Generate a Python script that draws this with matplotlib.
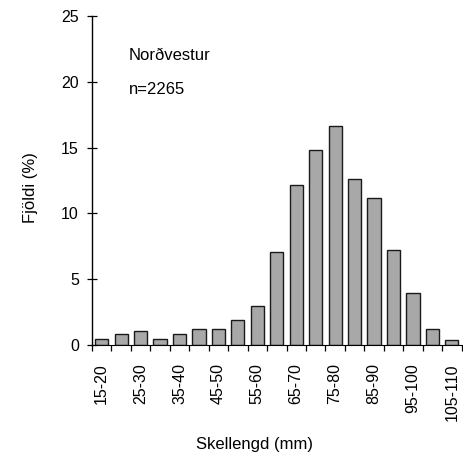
import matplotlib
matplotlib.use("Agg")
import matplotlib.pyplot as plt
import numpy as np

plt.rcParams['font.family'] = ['Liberation Sans', 'DejaVu Sans']

categories = ["15-20", "20-25", "25-30", "30-35", "35-40", "40-45", "45-50",
              "50-55", "55-60", "60-65", "65-70", "70-75", "75-80", "80-85",
              "85-90", "90-95", "95-100", "100-105", "105-110"]
values = [0.45, 0.82, 1.05, 0.45, 0.82, 1.25, 1.25, 1.9, 2.95, 7.05, 12.15,
          14.85, 16.65, 12.6, 11.15, 7.25, 3.95, 1.25, 0.4]
yticks = [0, 5, 10, 15, 20, 25]

W, H = 463, 457
fig = plt.figure(figsize=(W / 100, H / 100), dpi=100)
fig.patch.set_facecolor('white')

px = 19.45
left, bottom, top = 92, 345, 16
n_units = 20
ax = fig.add_axes([left / W, (H - bottom) / H, n_units * px / W, (bottom - top) / H])

x = np.arange(len(categories))
ax.bar(x, values, width=0.68, color='#a8a8a8', edgecolor='#1a1a1a', linewidth=1.0)

ax.set_xlim(-0.5, n_units - 0.5)
ax.set_ylim(0, 25)

ax.spines['top'].set_visible(False)
ax.spines['right'].set_visible(False)
ax.spines['left'].set_linewidth(1.0)
ax.spines['bottom'].set_linewidth(0.8)

ax.set_yticks(yticks)
ax.tick_params(axis='y', direction='inout', length=7, width=0.9, labelsize=11.5, pad=6)

ax.set_xticks(x[::2])
ax.set_xticklabels(categories[::2], rotation=90, fontsize=11.5)
ax.tick_params(axis='x', which='major', length=0, pad=13)
ax.set_xticks(np.arange(-0.5, n_units, 1.0), minor=True)
ax.tick_params(axis='x', which='minor', direction='out', length=4.5, width=0.9)

ax.text(129 / W, 1 - 55 / H, "Norðvestur", transform=fig.transFigure,
        fontsize=12, va='center', ha='left')
ax.text(129 / W, 1 - 89 / H, "n=2265", transform=fig.transFigure,
        fontsize=12, va='center', ha='left')

fig.text(30 / W, 1 - 188 / H, "Fjöldi (%)", rotation=90, fontsize=12,
         va='center', ha='center')
fig.text(255 / W, 1 - 445 / H, "Skellengd (mm)", fontsize=12,
         va='center', ha='center')

fig.savefig("out.png", dpi=100, facecolor='white')
